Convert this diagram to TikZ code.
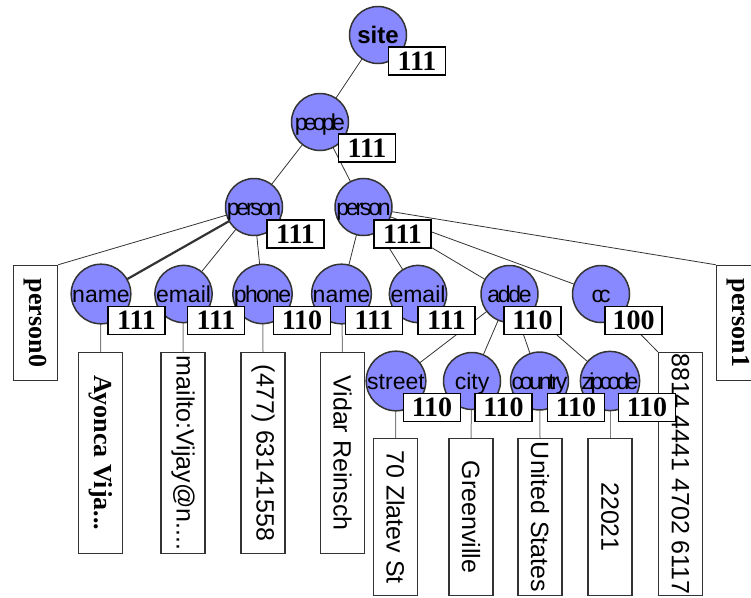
\documentclass[tikz,border=0pt]{standalone}
\usepackage{fontspec}
\usepackage{graphicx}
\setmainfont{Liberation Serif}
\newfontfamily\lsans{Liberation Sans}
\definecolor{circfill}{RGB}{136,136,255}
\definecolor{edgecol}{RGB}{51,51,51}
\def\sqz#1#2{\def\sqk{#1}\sqzloop#2\relax}
\def\sqzloop#1#2{#1\ifx\relax#2\else\kern\sqk\relax\expandafter\sqzloop\fi#2}
\pgfdeclarelayer{bg}
\pgfsetlayers{bg,main}
\tikzset{
  tnode/.style={circle, draw=edgecol, line width=1.5pt, fill=circfill, minimum size=57pt, inner sep=0pt,
    font=\lsans\fontsize{23}{23}\selectfont, text height=16pt, text depth=0pt},
  numbox/.style={rectangle, draw=black, line width=1.5pt, fill=white, minimum width=57pt, minimum height=28pt,
    inner sep=0pt, font=\bfseries\fontsize{28}{28}\selectfont},
  leafbox/.style={rectangle, draw=edgecol, line width=1.5pt, fill=white, minimum width=44pt, inner sep=0pt,
    font=\lsans\fontsize{25}{25}\selectfont},
  leafbold/.style={leafbox, font=\bfseries\fontsize{26}{26}\selectfont},
  conn/.style={draw=edgecol, line width=0.8pt},
  thickconn/.style={draw=edgecol, line width=2.2pt},
  vconn/.style={draw=gray, line width=1pt}
}
\begin{document}
\begin{tikzpicture}[x=1pt,y=-1pt]
\path[use as bounding box] (0,0) rectangle (751,597);
% leaf boxes
\node[leafbold, minimum height=115pt] (p0) at (35.5,323) {\rotatebox{-90}{person0}};
\node[leafbold, minimum height=115pt] (p1) at (738.5,323) {\rotatebox{-90}{person1}};
\node[leafbold, minimum height=201pt] (lfA) at (100.5,453) {\rotatebox{-90}{Ayonca Vija...}};
\node[leafbox, minimum height=201pt] (lfB) at (183,453) {\rotatebox{-90}{mailto:Vijay@n....}};
\node[leafbox, minimum height=201pt] (lfC) at (263,453) {\rotatebox{-90}{(477) 63141558}};
\node[leafbox, minimum height=201pt] (lfD) at (342.5,453) {\rotatebox{-90}{Vidar Reinsch}};
\node[leafbox, minimum height=243pt] (lfE) at (680.5,474) {\rotatebox{-90}{8814 4441 4702 6117}};
\node[leafbox, minimum height=157pt] (lfF) at (395.5,517) {\rotatebox{-90}{70 Zlatev St}};
\node[leafbox, minimum height=157pt] (lfG) at (471,517) {\rotatebox{-90}{Greenville}};
\node[leafbox, minimum height=157pt] (lfH) at (540,517) {\rotatebox{-90}{United States}};
\node[leafbox, minimum height=157pt] (lfI) at (610,517) {\rotatebox{-90}{22021}};
% tree nodes
\node[tnode, font=\lsans\bfseries\fontsize{24}{24}\selectfont] (site) at (378,35) {site};
\node[tnode] (people) at (320,122) {\sqz{-3.8pt}{people}};
\node[tnode] (perA) at (254,207) {\sqz{-3.2pt}{person}};
\node[tnode] (perB) at (363.5,207) {\sqz{-3.2pt}{person}};
\node[tnode] (nameA) at (101,294) {name};
\node[tnode] (emailA) at (183.5,294) {email};
\node[tnode] (phoneA) at (262.5,294) {\sqz{-1.7pt}{phone}};
\node[tnode] (nameB) at (341.5,294) {name};
\node[tnode] (emailB) at (418,294) {email};
\node[tnode] (addr) at (509.5,294) {\sqz{-2.3pt}{adde}};
\node[tnode] (cc) at (601,294) {\sqz{-4pt}{cc}};
\node[tnode] (street) at (396,381) {street};
\node[tnode] (city) at (472,381) {city};
\node[tnode] (country) at (539.5,381) {\sqz{-3.3pt}{country}};
\node[tnode] (zip) at (610,381) {\sqz{-3.7pt}{zipcode}};
% number boxes
\node[numbox] (bsite) at (417,61) {111};
\node[numbox] (bpeople) at (367,148) {111};
\node[numbox] (bperA) at (295.5,234) {111};
\node[numbox] (bperB) at (402.5,234) {111};
\node[numbox] (bnameA) at (136.5,320.5) {111};
\node[numbox] (bemailA) at (216,320.5) {111};
\node[numbox] (bphoneA) at (302,320.5) {110};
\node[numbox] (bnameB) at (374,320.5) {111};
\node[numbox] (bemailB) at (446.5,320.5) {111};
\node[numbox] (baddr) at (532.5,320.5) {110};
\node[numbox] (bcc) at (633.5,320.5) {100};
\node[numbox] (bstreet) at (432,407.5) {110};
\node[numbox] (bcity) at (503.5,407.5) {110};
\node[numbox] (bcountry) at (576,407.5) {110};
\node[numbox] (bzip) at (647,407.5) {110};
% connectors
\begin{pgfonlayer}{bg}
\draw[conn] (site.center) -- (people.center);
\draw[conn] (people.center) -- (perA.center);
\draw[conn] (people.center) -- (perB.center);
\draw[conn] (perA.center) -- (p0.north east);
\draw[thickconn] (perA.center) -- (nameA.center);
\draw[conn] (perA.center) -- (emailA.center);
\draw[conn] (perA.center) -- (phoneA.center);
\draw[conn] (perB.center) -- (nameB.center);
\draw[conn] (perB.center) -- (emailB.center);
\draw[conn] (perB.center) -- (addr.center);
\draw[conn] (perB.center) -- (cc.center);
\draw[conn] (perB.center) -- (p1.north west);
\draw[conn] (addr.center) -- (street.center);
\draw[conn] (addr.center) -- (city.center);
\draw[conn] (addr.center) -- (country.center);
\draw[conn] (addr.center) -- (zip.center);
\draw[vconn] (nameA.center) -- (lfA.north);
\draw[vconn] (emailA.center) -- (lfB.north);
\draw[vconn] (phoneA.center) -- (lfC.north);
\draw[vconn] (nameB.center) -- (lfD.north);
\draw[conn] (cc.center) -- (lfE.north west);
\draw[vconn] (street.center) -- (lfF.north);
\draw[vconn] (city.center) -- (lfG.north);
\draw[vconn] (country.center) -- (lfH.north);
\draw[vconn] (zip.center) -- (lfI.north);
\end{pgfonlayer}
\end{tikzpicture}
\end{document}
